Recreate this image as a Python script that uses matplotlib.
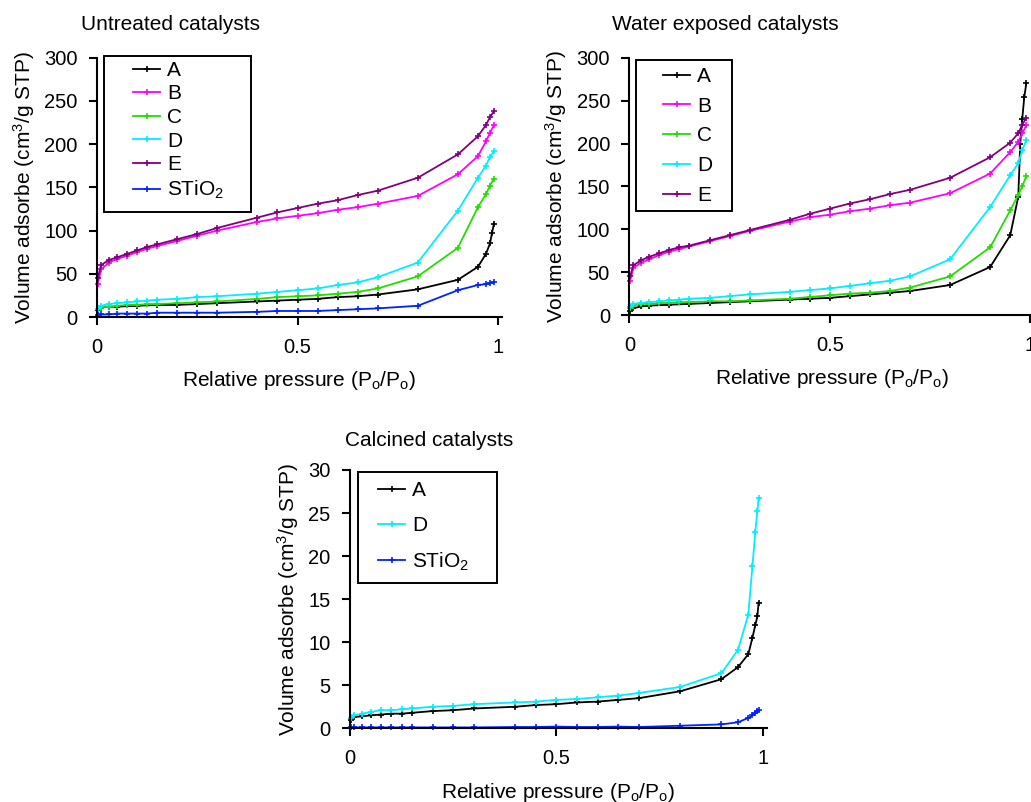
import matplotlib
matplotlib.use('Agg')
import matplotlib.pyplot as plt
from matplotlib.patches import Rectangle

plt.rcParams['font.family'] = ['Liberation Sans', 'DejaVu Sans']
plt.rcParams['mathtext.fontset'] = 'custom'
plt.rcParams['mathtext.rm'] = 'Liberation Sans'
plt.rcParams['mathtext.it'] = 'Liberation Sans:italic'
plt.rcParams['mathtext.bf'] = 'Liberation Sans:bold'

W, H = 1031, 802

# relative pressures (shared by most series)
P = [0.002, 0.01, 0.03, 0.05, 0.075, 0.1, 0.125, 0.15, 0.2, 0.25, 0.3, 0.4,
     0.45, 0.5, 0.55, 0.6, 0.65, 0.7, 0.8, 0.9, 0.95, 0.97, 0.98, 0.99]

# --- Untreated catalysts ---
untreated_A_p = [0.002, 0.01, 0.03, 0.05, 0.1, 0.15, 0.2, 0.25, 0.3, 0.4, 0.45, 0.5,
                 0.55, 0.6, 0.65, 0.7, 0.8, 0.9, 0.95, 0.97, 0.98, 0.985, 0.99]
untreated_A = [8, 11, 12, 12, 13, 14, 14, 15, 16, 18, 19, 20,
               21, 23, 24, 26, 32, 43, 58, 73, 85, 97, 108]
untreated_B = [38, 55, 63, 67, 71, 75, 79, 82, 88, 94, 100, 110,
               114, 117, 120, 124, 127, 131, 140, 165, 186, 203, 213, 222]
untreated_C = [9, 11, 12, 13, 14, 14, 15, 15, 16, 17, 18, 21,
               23, 24, 25, 27, 29, 33, 47, 80, 127, 142, 152, 160]
untreated_D = [9, 13, 15, 16, 17, 18, 19, 20, 21, 23, 24, 27,
               29, 31, 33, 37, 40, 46, 63, 123, 161, 175, 185, 192]
untreated_E = [45, 60, 66, 69, 73, 77, 81, 84, 90, 96, 103, 115,
               121, 126, 131, 135, 141, 146, 161, 188, 209, 222, 231, 238]
untreated_S = [2, 3, 3, 4, 4, 4, 4, 5, 5, 5, 5, 6,
               7, 7, 7, 8, 9, 10, 13, 31, 37, 38, 39, 40]

# --- Water exposed catalysts ---
water_A_p = [0.002, 0.01, 0.03, 0.05, 0.1, 0.15, 0.2, 0.25, 0.3, 0.4, 0.45, 0.5,
             0.55, 0.6, 0.65, 0.7, 0.8, 0.9, 0.95, 0.97, 0.975, 0.98, 0.985, 0.99]
water_A = [5, 8, 10, 11, 12, 13, 14, 15, 16, 18, 19, 20,
           22, 24, 26, 28, 35, 56, 93, 138, 200, 229, 254, 270]
water_B = [40, 55, 61, 65, 70, 74, 77, 80, 86, 92, 98, 109,
           114, 117, 121, 124, 128, 131, 142, 165, 190, 202, 212, 221]
water_C = [8, 11, 13, 13, 14, 14, 15, 15, 16, 16, 17, 19,
           21, 23, 25, 26, 28, 32, 45, 79, 122, 140, 150, 162]
water_D = [9, 13, 14, 15, 16, 17, 18, 19, 20, 22, 24, 27,
           29, 31, 34, 37, 40, 45, 65, 126, 163, 177, 192, 204]
water_E = [45, 58, 64, 68, 72, 76, 79, 81, 87, 93, 99, 111,
           118, 124, 130, 135, 141, 146, 160, 184, 201, 212, 222, 230]

# --- Calcined catalysts ---
calc_p = [0.002, 0.01, 0.03, 0.05, 0.075, 0.1, 0.125, 0.15, 0.2, 0.25, 0.3, 0.4,
          0.45, 0.5, 0.55, 0.6, 0.65, 0.7, 0.8, 0.9, 0.94, 0.965, 0.975, 0.982,
          0.987, 0.99]
calc_A = [1.0, 1.3, 1.4, 1.5, 1.6, 1.7, 1.7, 1.8, 2.0, 2.1, 2.3, 2.5,
          2.7, 2.8, 3.0, 3.1, 3.3, 3.5, 4.3, 5.7, 7.1, 8.6, 10.5, 12.0,
          13.0, 14.6]
calc_D = [1.2, 1.5, 1.7, 1.9, 2.1, 2.1, 2.2, 2.3, 2.5, 2.6, 2.8, 3.0,
          3.1, 3.3, 3.4, 3.6, 3.8, 4.1, 4.8, 6.4, 9.1, 13.2, 18.8, 22.8,
          25.2, 26.7]
calc_S = [0.1, 0.1, 0.1, 0.1, 0.1, 0.1, 0.1, 0.1, 0.1, 0.1, 0.1, 0.15,
          0.15, 0.2, 0.15, 0.15, 0.2, 0.15, 0.3, 0.45, 0.7, 1.2, 1.5, 1.8,
          2.0, 2.1]

COLORS = {'A': 'black', 'B': '#ff00ff', 'C': '#22dd00', 'D': '#00eeff',
          'E': '#800080', 'S': '#0022ff'}
S_LABEL = 'STiO$_2$'
YLABEL = 'Volume adsorbe (cm$^3$/g STP)'
XLABEL = 'Relative pressure (P$_\\mathrm{o}$/P$_\\mathrm{o}$)'
FS = 15
TICK_FS = 14.5


def style_axes(ax, ymax, ystep):
    ax.set_xlim(0, 1.01)
    ax.set_ylim(0, ymax)
    ax.set_xticks([0, 0.5, 1])
    ax.set_xticklabels(['0', '0.5', '1'])
    ax.set_yticks(range(0, ymax + 1, ystep))
    for s in ['top', 'right']:
        ax.spines[s].set_visible(False)
    for s in ['left', 'bottom']:
        ax.spines[s].set_linewidth(1.5)
    ax.tick_params(direction='out', length=6, width=1.5, labelsize=TICK_FS)
    ax.tick_params(axis='x', pad=9)
    ax.tick_params(axis='y', pad=8)
    ax.set_xlabel(XLABEL, fontsize=FS, labelpad=9)
    ax.set_ylabel(YLABEL, fontsize=FS, labelpad=5)


def plot_series(ax, x, y, key, label):
    ax.plot(x, y, color=COLORS[key], lw=1.3, marker='+', ms=4, mew=1.2,
            label=label, clip_on=False)


def add_legend(ax, box, handle_x, center_y, spacing):
    # box: (left, top, right, bottom) in pixels from the top-left corner
    x0, y0, x1, y1 = box
    fig.add_artist(Rectangle((x0 / W, 1 - y1 / H), (x1 - x0) / W, (y1 - y0) / H,
                             transform=fig.transFigure, fill=False,
                             ec='black', lw=1.4))
    fpx = FS * 100 / 72
    ax.legend(loc='center left', bbox_to_anchor=(handle_x / W, 1 - center_y / H),
              bbox_transform=fig.transFigure, fontsize=FS, frameon=False,
              borderpad=0, borderaxespad=0, labelspacing=spacing,
              handlelength=27 / fpx, handletextpad=7 / fpx)


fig = plt.figure(figsize=(W / 100, H / 100), dpi=100)

# untreated
ax1 = fig.add_axes([0.0941, 0.6047, 0.3928, 0.3236])
plot_series(ax1, untreated_A_p, untreated_A, 'A', 'A')
plot_series(ax1, P, untreated_B, 'B', 'B')
plot_series(ax1, P, untreated_C, 'C', 'C')
plot_series(ax1, P, untreated_D, 'D', 'D')
plot_series(ax1, P, untreated_E, 'E', 'E')
plot_series(ax1, P, untreated_S, 'S', S_LABEL)
style_axes(ax1, 300, 50)
add_legend(ax1, (104, 56, 251, 212), 133, 131, 0.22)
fig.text(81 / W, 1 - 25 / H, 'Untreated catalysts', fontsize=FS, va='center')

# water exposed
ax2 = fig.add_axes([0.6104, 0.6072, 0.3928, 0.3208])
plot_series(ax2, water_A_p, water_A, 'A', 'A')
plot_series(ax2, P, water_B, 'B', 'B')
plot_series(ax2, P, water_C, 'C', 'C')
plot_series(ax2, P, water_D, 'D', 'D')
plot_series(ax2, P, water_E, 'E', 'E')
style_axes(ax2, 300, 50)
add_legend(ax2, (636, 60, 732, 211), 663, 136, 0.52)
fig.text(612 / W, 1 - 25 / H, 'Water exposed catalysts', fontsize=FS, va='center')

# calcined
ax3 = fig.add_axes([0.3395, 0.0919, 0.4043, 0.3221])
plot_series(ax3, calc_p, calc_A, 'A', 'A')
plot_series(ax3, calc_p, calc_D, 'D', 'D')
plot_series(ax3, calc_p, calc_S, 'S', S_LABEL)
style_axes(ax3, 30, 5)
add_legend(ax3, (358, 472, 497, 583), 378, 527, 0.75)
fig.text(345 / W, 1 - 440 / H, 'Calcined catalysts', fontsize=FS, va='center')

fig.savefig('out.png', dpi=100)
